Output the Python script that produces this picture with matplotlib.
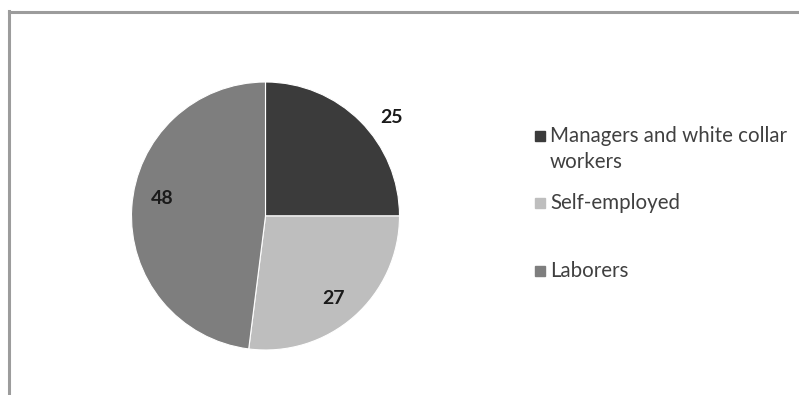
import matplotlib
matplotlib.use("Agg")
import matplotlib.pyplot as plt
from matplotlib.patches import Rectangle
import numpy as np

categories = ["Managers and white collar", "Self-employed", "Laborers"]
category_wrap = ["workers", "", ""]
values = [25, 27, 48]
colors = ["#3b3b3b", "#bebebe", "#7e7e7e"]

W, H = 799, 395
fig = plt.figure(figsize=(W / 100, H / 100), dpi=100)
fig.patch.set_facecolor("white")

# chart-area border (top and left edges visible)
fig.add_artist(plt.Line2D([9 / W, 9 / W], [0, 1 - 11 / H], color="#9c9c9c", lw=2.2))
fig.add_artist(plt.Line2D([9 / W, 1], [1 - 12 / H, 1 - 12 / H], color="#9c9c9c", lw=2.2))

# pie axes
cx, cy, r = 265.5, 216, 134
ax = fig.add_axes([(cx - r) / W, (H - cy - r) / H, 2 * r / W, 2 * r / H])
wedges, _ = ax.pie(values, colors=colors, startangle=90, counterclock=False,
                   wedgeprops=dict(edgecolor="white", linewidth=0.8))
ax.set_xlim(-1, 1)
ax.set_ylim(-1, 1)
ax.set_aspect("equal")
ax.axis("off")

font = ["Lato", "DejaVu Sans"]
label_dist = [1.19, 0.80, 0.78]
angle_shift = [-7, -2, -6]
for w, v, d, s in zip(wedges, values, label_dist, angle_shift):
    ang = np.deg2rad((w.theta1 + w.theta2) / 2 + s)
    ax.text(d * np.cos(ang), d * np.sin(ang), str(v), ha="center", va="center",
            fontsize=14, fontweight="bold", color="#1a1a1a", family=font)

# legend (baselines in pixels from the top)
leg_base = [142, 209, 277]
line_gap = 26
for lab, extra, col, yb in zip(categories, category_wrap, colors, leg_base):
    fig.add_artist(Rectangle((535 / W, 1 - (yb - 1) / H), 10 / W, 10 / H,
                             transform=fig.transFigure, color=col))
    fig.text(550 / W, 1 - yb / H, lab, ha="left", va="baseline",
             fontsize=14.8, color="#404040", family=font)
    if extra:
        fig.text(550 / W, 1 - (yb + line_gap) / H, extra, ha="left", va="baseline",
                 fontsize=14.8, color="#404040", family=font)

fig.savefig("out.png", dpi=100)
